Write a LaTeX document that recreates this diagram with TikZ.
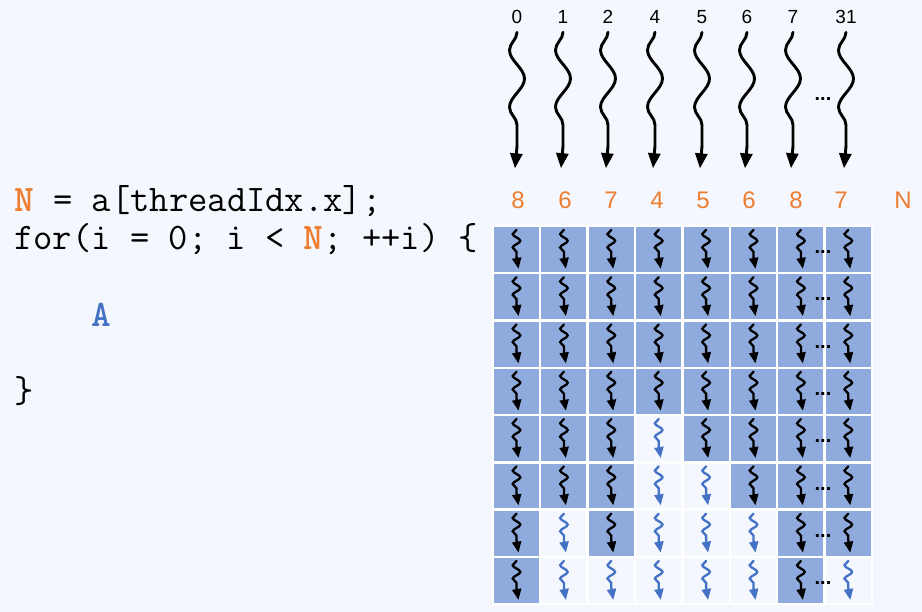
\documentclass[tikz,border=0pt]{standalone}
\usepackage{fontspec}
\setmainfont{Liberation Sans}
\newfontfamily\codebf{lmmonolt10-bold.otf}
\usetikzlibrary{arrows.meta,decorations.pathmorphing}
\definecolor{bgpage}{HTML}{F4F7FD}
\definecolor{cellblue}{HTML}{8FAADC}
\definecolor{wormblue}{HTML}{4472C4}
\definecolor{numorange}{HTML}{ED7D31}
\tikzset{
  tid/.style={anchor=base,inner sep=0pt,font=\fontsize{19}{22}\selectfont},
  nval/.style={anchor=base,inner sep=0pt,text=numorange,font=\fontsize{24}{28}\selectfont},
  codeline/.style={anchor=base west,inner sep=0pt,font=\ttfamily\fontsize{37.5}{40}\selectfont},
  cell/.style={draw=white,line width=2.4pt,outer sep=0pt,minimum width=47.4pt,minimum height=47.3pt,inner sep=0pt},
  dotsnode/.style={anchor=base,inner sep=0pt,font=\bfseries\fontsize{20}{22}\selectfont},
  bigworm/.style={line width=2.9pt,line cap=round,decorate,decoration={snake,mirror,amplitude=7.5pt,segment length=57pt}},
  bigtip/.style={line width=2.9pt,-{Triangle[length=15pt,width=12pt]}},
  smallworm/.style={line width=2.3pt,line cap=round,decorate,decoration={snake,mirror,amplitude=3.8pt,segment length=13.5pt}},
  smalltip/.style={line width=2.3pt,-{Triangle[length=11pt,width=9pt]}}
}
\begin{document}
\begin{tikzpicture}[x=1pt,y=-1pt]
\fill[bgpage] (0,0) rectangle (922,612);

\node[codeline] (line1) at (14,212) {\textcolor{numorange}{\codebf N} = a[threadIdx.x];};
\node[codeline] (line2) at (14,250) {for(i = 0; i < \textcolor{numorange}{\codebf N}; ++i) \{};
\node[codeline] (line3) at (91,327) {\textcolor{wormblue}{\codebf A}};
\node[codeline] (line4) at (14,403) {\}};

\foreach \i/\tn/\xt/\nv/\xn in {0/0/517/8/518, 1/1/563/6/565, 2/2/608/7/611, 3/4/655/4/657,
                                4/5/702/5/703, 5/6/747/6/749, 6/7/793/8/796, 7/31/846/7/841}{
  \node[tid] (t\i) at (\xt,24) {\tn};
  \node[nval] (n\i) at (\xn,209) {\nv};
  \draw[bigworm] ([yshift=-8pt]t\i.south) -- ([yshift=-122pt]t\i.south);
  \draw[bigtip] ([yshift=-122pt]t\i.south) -- ([xshift=-2pt,yshift=-144pt]t\i.south);
  \foreach \r in {0,...,7}{
    \ifnum\r<\nv \def\cfill{cellblue}\def\wcol{black}\else \def\cfill{bgpage}\def\wcol{wormblue}\fi
    \node[cell,fill=\cfill] (c\i-\r) at (516.5+47.4*\i,249.5+47.3*\r) {};
    \draw[smallworm,color=\wcol] ([yshift=-4pt]c\i-\r.north) -- ([yshift=-31pt]c\i-\r.north);
    \draw[smalltip,color=\wcol] ([yshift=-31pt]c\i-\r.north) -- ([xshift=2pt,yshift=-43pt]c\i-\r.north);
  }
}
\node[nval] (nname) at (903,209) {N};

\node[dotsnode] (dtop) at (823,100.5) {...};
\foreach \r in {0,...,7}
  \node[dotsnode] (d\r) at (823,253.5+47.3*\r) {...};
\end{tikzpicture}
\end{document}
